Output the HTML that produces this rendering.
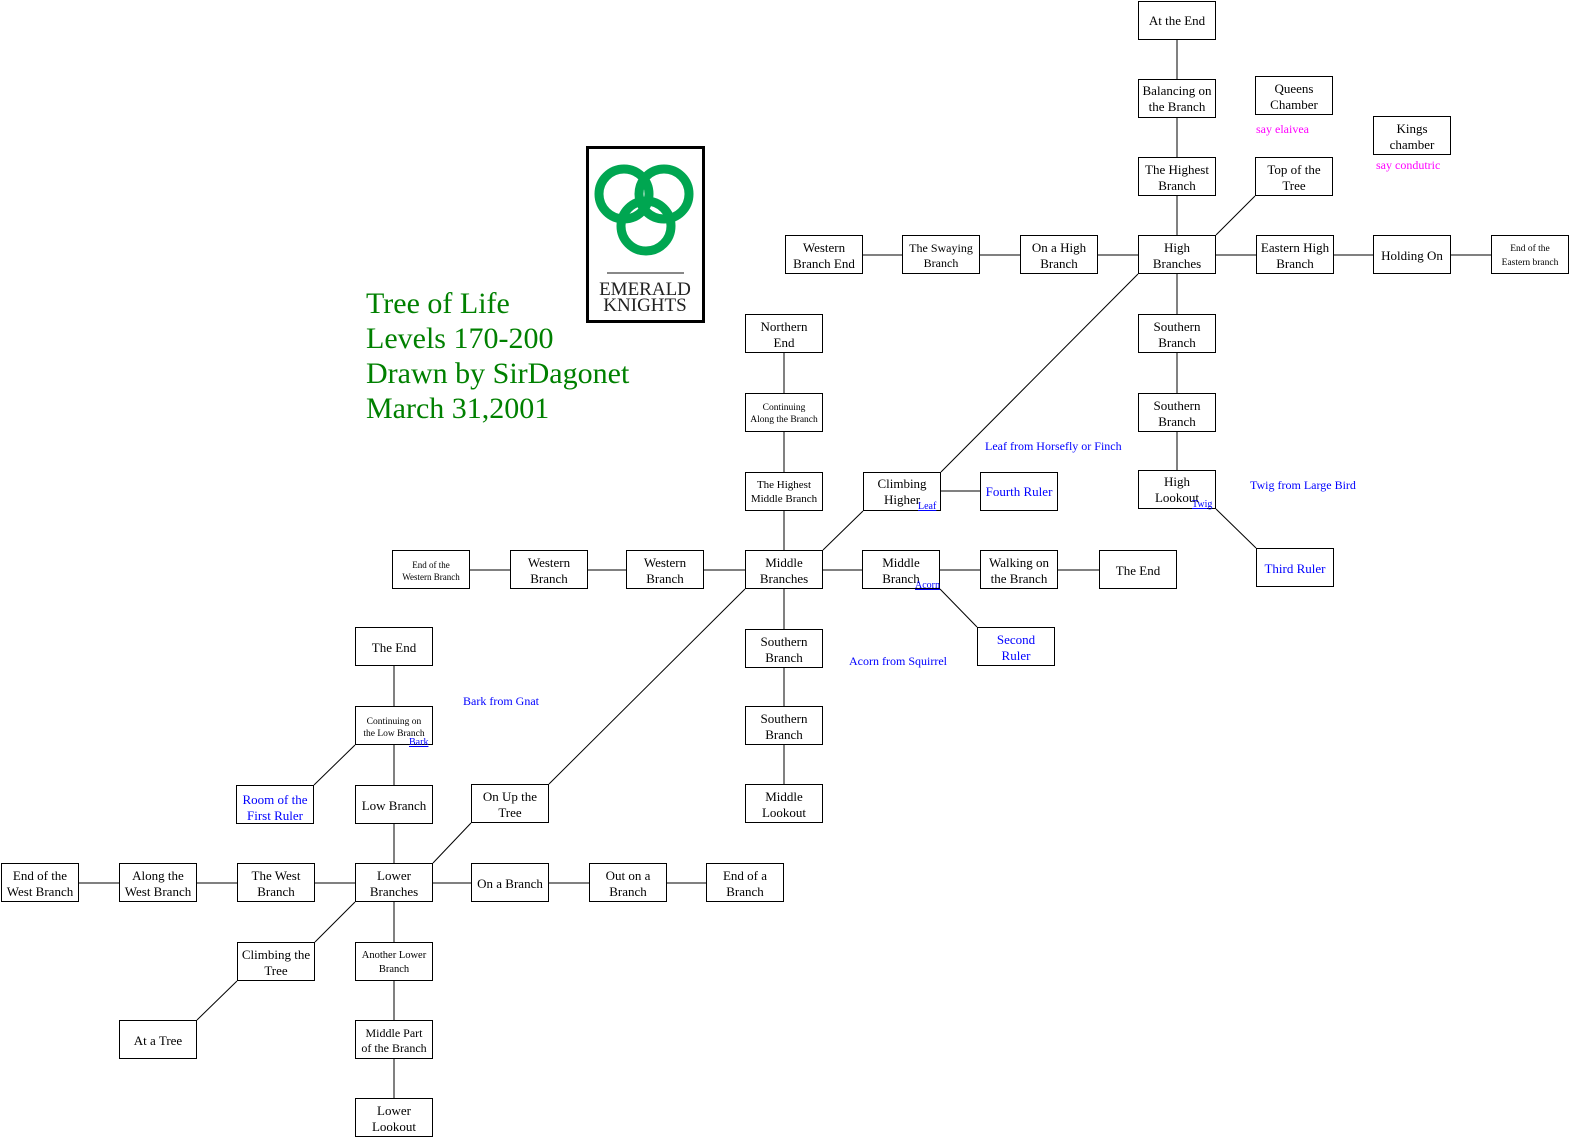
<!DOCTYPE html>
<html><head><meta charset="utf-8"><style>
html,body{margin:0;padding:0;background:#fff;overflow:hidden;width:1574px;height:1142px;}
svg{display:block;font-family:"Liberation Serif",serif;position:absolute;left:0;top:0;}
.b{fill:#fff;stroke:#000;stroke-width:1}
.t{font-size:13px;text-anchor:middle;fill:#000}
.s{font-size:9.5px;text-anchor:middle;fill:#000}
.u{font-size:13px;text-anchor:middle;fill:#00f}
.l{font-size:12px;fill:#00f}
.m{font-size:12px;fill:#f0f}
.k{font-size:10px;fill:#00f;text-decoration:underline}
line{stroke:#000;stroke-width:1}
</style></head><body>
<svg width="1574" height="1142">
<g>
<line x1="1177" y1="40" x2="1177" y2="470"/>
<line x1="784" y1="353" x2="784" y2="784"/>
<line x1="394" y1="666" x2="394" y2="1098"/>
<line x1="863" y1="255" x2="1491" y2="255"/>
<line x1="470" y1="570" x2="1099" y2="570"/>
<line x1="941" y1="491" x2="980" y2="491"/>
<line x1="79" y1="883" x2="706" y2="883"/>
<line x1="1138" y1="274" x2="941" y2="472"/>
<line x1="1255" y1="196" x2="1216" y2="235"/>
<line x1="863" y1="511" x2="823" y2="550"/>
<line x1="745" y1="589" x2="549" y2="784"/>
<line x1="471" y1="823" x2="433" y2="863"/>
<line x1="355" y1="902" x2="315" y2="942"/>
<line x1="237" y1="981" x2="197" y2="1020"/>
<line x1="355" y1="745" x2="314" y2="785"/>
<line x1="940" y1="589" x2="977" y2="627"/>
<line x1="1216" y1="509" x2="1256" y2="548"/>
</g>

<rect class="b" x="1138.5" y="1.5" width="77" height="38"/><text class="t" x="1177" y="25">At the End</text>
<rect class="b" x="1138.5" y="79.5" width="77" height="38"/><text class="t" x="1177" y="95">Balancing on</text><text class="t" x="1177" y="111">the Branch</text>
<rect class="b" x="1138.5" y="157.5" width="77" height="38"/><text class="t" x="1177" y="174">The Highest</text><text class="t" x="1177" y="190">Branch</text>
<rect class="b" x="1138.5" y="235.5" width="77" height="38"/><text class="t" x="1177" y="252">High</text><text class="t" x="1177" y="268">Branches</text>
<rect class="b" x="1138.5" y="314.5" width="77" height="38"/><text class="t" x="1177" y="331">Southern</text><text class="t" x="1177" y="347">Branch</text>
<rect class="b" x="1138.5" y="393.5" width="77" height="38"/><text class="t" x="1177" y="410">Southern</text><text class="t" x="1177" y="426">Branch</text>
<rect class="b" x="1138.5" y="470.5" width="77" height="38"/><text class="t" x="1177" y="486">High</text><text class="t" x="1177" y="502">Lookout</text><text class="k" x="1192" y="507">Twig</text>

<rect class="b" x="1255.5" y="76.5" width="77" height="38"/><text class="t" x="1294" y="93">Queens</text><text class="t" x="1294" y="109">Chamber</text>
<rect class="b" x="1373.5" y="116.5" width="77" height="38"/><text class="t" x="1412" y="133">Kings</text><text class="t" x="1412" y="149">chamber</text>
<rect class="b" x="1255.5" y="157.5" width="77" height="38"/><text class="t" x="1294" y="174">Top of the</text><text class="t" x="1294" y="190">Tree</text>
<text class="m" x="1256" y="133">say elaivea</text>
<text class="m" x="1376" y="169">say condutric</text>

<rect class="b" x="785.5" y="235.5" width="77" height="38"/><text class="t" x="824" y="252">Western</text><text class="t" x="824" y="268">Branch End</text>
<rect class="b" x="902.5" y="235.5" width="77" height="38"/><text class="t" x="941" y="252" style="font-size:12px">The Swaying</text><text class="t" x="941" y="267" style="font-size:12px">Branch</text>
<rect class="b" x="1020.5" y="235.5" width="77" height="38"/><text class="t" x="1059" y="252">On a High</text><text class="t" x="1059" y="268">Branch</text>
<rect class="b" x="1256.5" y="235.5" width="77" height="38"/><text class="t" x="1295" y="252">Eastern High</text><text class="t" x="1295" y="268">Branch</text>
<rect class="b" x="1373.5" y="235.5" width="77" height="38"/><text class="t" x="1412" y="260">Holding On</text>
<rect class="b" x="1491.5" y="235.5" width="77" height="38"/><text class="s" x="1530" y="251">End of the</text><text class="s" x="1530" y="265">Eastern branch</text>
<rect class="b" x="1256.5" y="548.5" width="77" height="38"/><text class="u" x="1295" y="573">Third Ruler</text>
<text class="l" x="1250" y="489">Twig from Large Bird</text>
<text class="l" x="985" y="450">Leaf from Horsefly or Finch</text>

<rect class="b" x="745.5" y="314.5" width="77" height="38"/><text class="t" x="784" y="331">Northern</text><text class="t" x="784" y="347">End</text>
<rect class="b" x="745.5" y="393.5" width="77" height="38"/><text class="s" x="784" y="410">Continuing</text><text class="s" x="784" y="422">Along the Branch</text>
<rect class="b" x="745.5" y="472.5" width="77" height="38"/><text class="s" x="784" y="488" style="font-size:11px">The Highest</text><text class="s" x="784" y="502" style="font-size:11px">Middle Branch</text>
<rect class="b" x="745.5" y="550.5" width="77" height="38"/><text class="t" x="784" y="567">Middle</text><text class="t" x="784" y="583">Branches</text>
<rect class="b" x="745.5" y="629.5" width="77" height="38"/><text class="t" x="784" y="646">Southern</text><text class="t" x="784" y="662">Branch</text>
<rect class="b" x="745.5" y="706.5" width="77" height="38"/><text class="t" x="784" y="723">Southern</text><text class="t" x="784" y="739">Branch</text>
<rect class="b" x="745.5" y="784.5" width="77" height="38"/><text class="t" x="784" y="801">Middle</text><text class="t" x="784" y="817">Lookout</text>

<rect class="b" x="863.5" y="472.5" width="77" height="38"/><text class="t" x="902" y="488">Climbing</text><text class="t" x="902" y="504">Higher</text><text class="k" x="918" y="509">Leaf</text>
<rect class="b" x="980.5" y="472.5" width="77" height="38"/><text class="u" x="1019" y="496">Fourth Ruler</text>

<rect class="b" x="392.5" y="550.5" width="77" height="38"/><text class="s" x="431" y="568" style="font-size:9px">End of the</text><text class="s" x="431" y="580" style="font-size:9px">Western Branch</text>
<rect class="b" x="510.5" y="550.5" width="77" height="38"/><text class="t" x="549" y="567">Western</text><text class="t" x="549" y="583">Branch</text>
<rect class="b" x="626.5" y="550.5" width="77" height="38"/><text class="t" x="665" y="567">Western</text><text class="t" x="665" y="583">Branch</text>
<rect class="b" x="862.5" y="550.5" width="77" height="38"/><text class="t" x="901" y="567">Middle</text><text class="t" x="901" y="583">Branch</text><text class="k" x="915" y="588">Acorn</text>
<rect class="b" x="980.5" y="550.5" width="77" height="38"/><text class="t" x="1019" y="567">Walking on</text><text class="t" x="1019" y="583">the Branch</text>
<rect class="b" x="1099.5" y="550.5" width="77" height="38"/><text class="t" x="1138" y="575">The End</text>
<rect class="b" x="977.5" y="627.5" width="77" height="38"/><text class="u" x="1016" y="644">Second</text><text class="u" x="1016" y="660">Ruler</text>
<text class="l" x="849" y="665">Acorn from Squirrel</text>
<text class="l" x="463" y="705">Bark from Gnat</text>

<rect class="b" x="355.5" y="627.5" width="77" height="38"/><text class="t" x="394" y="652">The End</text>
<rect class="b" x="355.5" y="706.5" width="77" height="38"/><text class="s" x="394" y="724">Continuing on</text><text class="s" x="394" y="736">the Low Branch</text><text class="k" x="409" y="745">Bark</text>
<rect class="b" x="355.5" y="785.5" width="77" height="38"/><text class="t" x="394" y="810">Low Branch</text>
<rect class="b" x="355.5" y="863.5" width="77" height="38"/><text class="t" x="394" y="880">Lower</text><text class="t" x="394" y="896">Branches</text>
<rect class="b" x="355.5" y="942.5" width="77" height="38"/><text class="s" x="394" y="958" style="font-size:10.5px">Another Lower</text><text class="s" x="394" y="972" style="font-size:10.5px">Branch</text>
<rect class="b" x="355.5" y="1020.5" width="77" height="38"/><text class="t" x="394" y="1037" style="font-size:12px">Middle Part</text><text class="t" x="394" y="1052" style="font-size:12px">of the Branch</text>
<rect class="b" x="355.5" y="1098.5" width="77" height="38"/><text class="t" x="394" y="1115">Lower</text><text class="t" x="394" y="1131">Lookout</text>

<rect class="b" x="236.5" y="785.5" width="77" height="38"/><text class="u" x="275" y="804">Room of the</text><text class="u" x="275" y="820">First Ruler</text>
<rect class="b" x="471.5" y="784.5" width="77" height="38"/><text class="t" x="510" y="801">On Up the</text><text class="t" x="510" y="817">Tree</text>

<rect class="b" x="1.5" y="863.5" width="77" height="38"/><text class="t" x="40" y="880">End of the</text><text class="t" x="40" y="896">West Branch</text>
<rect class="b" x="119.5" y="863.5" width="77" height="38"/><text class="t" x="158" y="880">Along the</text><text class="t" x="158" y="896">West Branch</text>
<rect class="b" x="237.5" y="863.5" width="77" height="38"/><text class="t" x="276" y="880">The West</text><text class="t" x="276" y="896">Branch</text>
<rect class="b" x="471.5" y="863.5" width="77" height="38"/><text class="t" x="510" y="888">On a Branch</text>
<rect class="b" x="589.5" y="863.5" width="77" height="38"/><text class="t" x="628" y="880">Out on a</text><text class="t" x="628" y="896">Branch</text>
<rect class="b" x="706.5" y="863.5" width="77" height="38"/><text class="t" x="745" y="880">End of a</text><text class="t" x="745" y="896">Branch</text>
<rect class="b" x="237.5" y="942.5" width="77" height="38"/><text class="t" x="276" y="959">Climbing the</text><text class="t" x="276" y="975">Tree</text>
<rect class="b" x="119.5" y="1020.5" width="77" height="38"/><text class="t" x="158" y="1045">At a Tree</text>

<g style="font-size:30px;fill:#008000">
<text x="366" y="313">Tree of Life</text>
<text x="366" y="348">Levels 170-200</text>
<text x="366" y="383">Drawn by SirDagonet</text>
<text x="366" y="418">March 31,2001</text>
</g>

<rect x="587.5" y="147.5" width="116" height="174" fill="#fff" stroke="#000" stroke-width="3"/>
<g fill="none" stroke="#00a651" stroke-width="9">
<circle cx="624" cy="194" r="25"/>
<circle cx="664" cy="194" r="25"/>
<circle cx="646" cy="226" r="25"/>
</g>
<line x1="607" y1="273" x2="684" y2="273" style="stroke:#888;stroke-width:2"/>
<text x="645" y="295" text-anchor="middle" style="font-size:19px;fill:#222">EMERALD</text>
<text x="645" y="311" text-anchor="middle" style="font-size:19px;fill:#222">KNIGHTS</text>
</svg>
</body></html>
